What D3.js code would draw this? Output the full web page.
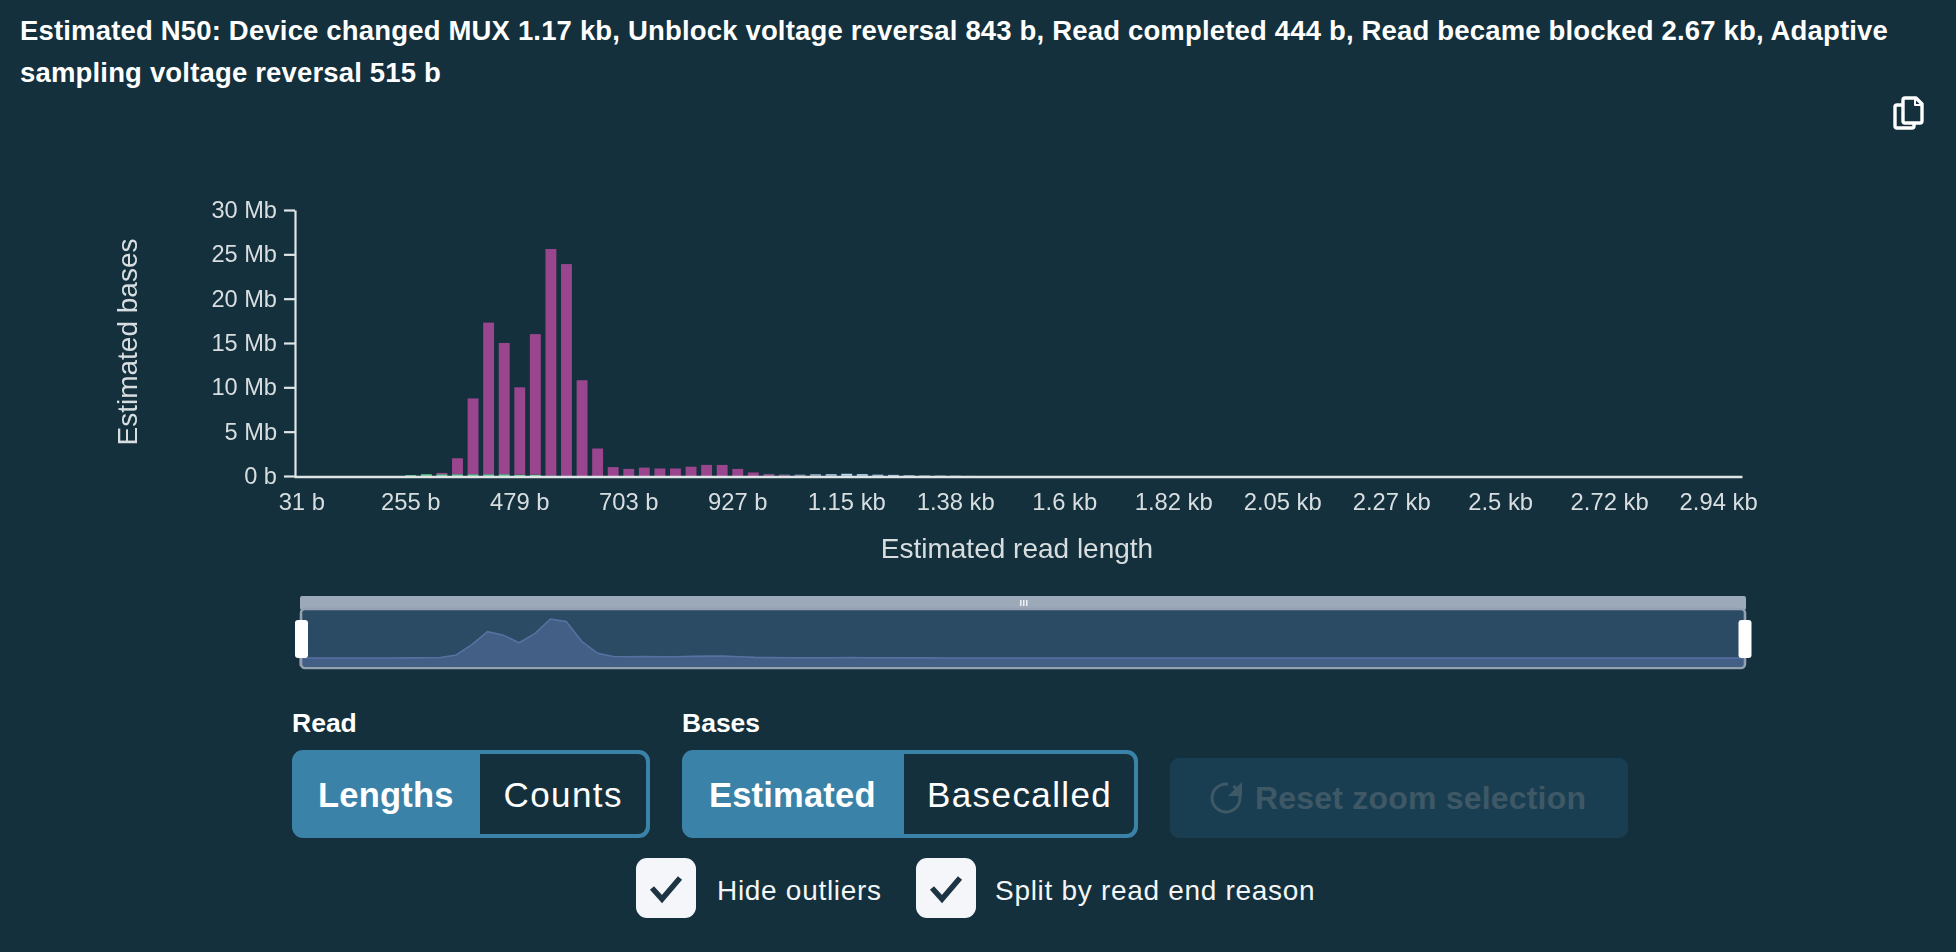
<!DOCTYPE html>
<html>
<head>
<meta charset="utf-8">
<script src="https://cdn.jsdelivr.net/npm/d3@7"></script>
<style>
  html, body { margin: 0; padding: 0; background: #13303c; overflow: hidden; }
  text { font-family: "Liberation Sans", Arial, sans-serif; }
  .chart { filter: blur(0.7px); }
</style>
</head>
<body>
<div id="chart"></div>
<script>
const titleLines = [
  "Estimated N50: Device changed MUX 1.17 kb, Unblock voltage reversal 843 b, Read completed 444 b, Read became blocked 2.67 kb, Adaptive",
  "sampling voltage reversal 515 b"
];

// read length bins, 32 b wide
const binStarts = d3.range(93).map(i => 31 + 32 * i);
const xTickBins = [31, 255, 479, 703, 927, 1151, 1375, 1599, 1823, 2047, 2271, 2495, 2719, 2943];
const xTickLabels = ["31 b", "255 b", "479 b", "703 b", "927 b", "1.15 kb", "1.38 kb", "1.6 kb", "1.82 kb", "2.05 kb", "2.27 kb", "2.5 kb", "2.72 kb", "2.94 kb"];
const yTicks = [0, 5, 10, 15, 20, 25, 30];
const yTickLabels = ["0 b", "5 Mb", "10 Mb", "15 Mb", "20 Mb", "25 Mb", "30 Mb"];

// values in Mb, bins after the listed ones are empty
const readCompleted = [0, 0, 0, 0, 0, 0, 0, 0.1, 0.2, 0.2, 0.2, 0.2, 0.2, 0.2, 0.15, 0.15, 0.05];
const adaptiveReversal = [0, 0, 0, 0, 0, 0, 0, 0, 0, 0.15, 1.8, 8.55, 17.1, 14.8, 9.85, 15.85, 25.55, 23.9, 10.8, 3.1, 1.0, 0.8, 0.95, 0.85, 0.85, 1.05, 1.25, 1.25, 0.8, 0.4, 0.2, 0.1, 0.03];
const unblockReversal = [0, 0, 0, 0, 0, 0, 0, 0, 0, 0, 0, 0, 0, 0, 0, 0, 0, 0, 0, 0, 0, 0, 0, 0, 0, 0, 0, 0, 0, 0, 0.03, 0.05, 0.08, 0.08, 0.05, 0.03, 0.03, 0.03, 0.02, 0.02];
const deviceChangedMux = [0, 0, 0, 0, 0, 0, 0, 0, 0, 0, 0, 0, 0, 0, 0, 0, 0, 0, 0, 0, 0, 0, 0, 0, 0, 0, 0, 0, 0, 0, 0, 0, 0.03, 0.1, 0.15, 0.22, 0.18, 0.12, 0.1, 0.06, 0.04, 0.03, 0.02];
const readBlocked = [0, 0, 0, 0, 0, 0, 0, 0, 0, 0, 0, 0, 0, 0, 0, 0, 0, 0, 0, 0, 0, 0, 0, 0, 0, 0, 0, 0, 0, 0, 0, 0, 0, 0, 0, 0, 0, 0, 0.01, 0.01, 0.01, 0.01, 0.01, 0.01];

const seriesNames = ["Read completed", "Adaptive sampling voltage reversal", "Unblock voltage reversal", "Device changed MUX", "Read became blocked"];
const seriesValues = [readCompleted, adaptiveReversal, unblockReversal, deviceChangedMux, readBlocked];
const seriesColors = ["#62c98f", "#99468f", "#8f9fb0", "#bcdcf2", "#a5aeb8"];

const BG = "#13303c", AXIS = "#dfe4e6", LABEL = "#d8dee0", WHITE = "#ffffff", TOGGLE = "#3b82a8";

const rows = binStarts.map((bin, i) => {
  const row = { bin };
  seriesNames.forEach((name, s) => { row[name] = seriesValues[s][i] || 0; });
  return row;
});
const totals = rows.map(r => d3.sum(seriesNames, name => r[name]));

const svg = d3.select("#chart").append("svg").attr("width", 1956).attr("height", 952).style("display", "block");

// header
svg.append("g").selectAll("text").data(titleLines).join("text")
  .attr("x", 20).attr("y", (d, i) => 40 + i * 42)
  .attr("font-size", 27.5).attr("font-weight", 700).attr("letter-spacing", 0.17).attr("fill", WHITE)
  .text(d => d);

// copy icon
const copyIcon = svg.append("g").attr("fill", "none").attr("stroke", WHITE).attr("stroke-width", 3.4).attr("stroke-linejoin", "round");
copyIcon.append("path").attr("d", "M1902 105h-5a2 2 0 0 0-2 2v19a2 2 0 0 0 2 2h15a2 2 0 0 0 2-2v-3");
copyIcon.append("path").attr("d", "M1905 98h11l6 6v17a2 2 0 0 1-2 2h-15a2 2 0 0 1-2-2v-21a2 2 0 0 1 2-2z");
copyIcon.append("path").attr("d", "M1915 98v7h7").attr("stroke-width", 2);

// main chart
const x = d3.scaleBand().domain(binStarts).range([294, 1742]).paddingInner(0.3).paddingOuter(0.15);
const y = d3.scaleLinear().domain([0, 30]).range([476, 210]);

const chart = svg.append("g").attr("class", "chart");

const stacked = d3.stack().keys(seriesNames)(rows);
chart.append("g").selectAll("g").data(stacked).join("g")
  .attr("fill", (d, i) => seriesColors[i])
  .selectAll("rect").data(d => d.filter(p => p[1] > p[0])).join("rect")
  .attr("x", d => x(d.data.bin))
  .attr("y", d => y(d[1]))
  .attr("width", x.bandwidth())
  .attr("height", d => y(d[0]) - y(d[1]));

const yAxis = chart.append("g").attr("transform", "translate(295,0)")
  .call(d3.axisLeft(y).tickValues(yTicks).tickSize(11).tickSizeOuter(0).tickPadding(7).tickFormat((d, i) => yTickLabels[i]));
yAxis.selectAll("path, line").attr("stroke", AXIS).attr("stroke-width", 2.2);
yAxis.selectAll("text").attr("fill", LABEL).attr("font-size", 23.6);

const xAxis = chart.append("g").attr("transform", "translate(0,476.5)")
  .call(d3.axisBottom(x).tickValues(xTickBins).tickSize(0).tickPadding(17).tickFormat((d, i) => xTickLabels[i]));
xAxis.selectAll("path").attr("stroke", AXIS).attr("stroke-width", 2.4);
xAxis.selectAll("text").attr("fill", LABEL).attr("font-size", 23.8);

chart.append("text").attr("x", 1017).attr("y", 558).attr("text-anchor", "middle")
  .attr("fill", LABEL).attr("font-size", 28).text("Estimated read length");
chart.append("text").attr("transform", "translate(137,342) rotate(-90)").attr("text-anchor", "middle")
  .attr("fill", LABEL).attr("font-size", 28).text("Estimated bases");

// zoom slider with the totals as its shadow
const slider = svg.append("g").attr("class", "chart");
const sx = d3.scalePoint().domain(binStarts).range([299, 1745]);
const sy = d3.scaleLinear().domain([0, d3.max(totals)]).range([658, 619]);

slider.append("rect").attr("x", 300).attr("y", 596).attr("width", 1446).attr("height", 14).attr("rx", 2).attr("fill", "#9ca9b8");
slider.append("rect").attr("x", 301).attr("y", 610).attr("width", 1444).attr("height", 58).attr("fill", "#2b4a64");

const sliderArea = d3.area().x((d, i) => sx(binStarts[i])).y0(666).y1(d => sy(d));
const sliderLine = d3.line().x((d, i) => sx(binStarts[i])).y(d => sy(d));
slider.append("path").datum(totals).attr("d", sliderArea).attr("fill", "#435f85");
slider.append("path").datum(totals).attr("d", sliderLine).attr("fill", "none").attr("stroke", "#5672a0").attr("stroke-width", 1.6);

// frame around the selected window
slider.append("rect").attr("x", 301).attr("y", 609).attr("width", 1444).attr("height", 59)
  .attr("rx", 4).attr("fill", "none").attr("stroke", "#93a1b2").attr("stroke-width", 2.6);

slider.selectAll("rect.handle").data([295, 1738.5]).join("rect").attr("class", "handle")
  .attr("x", d => d).attr("y", 620).attr("width", 13).attr("height", 38).attr("rx", 3).attr("fill", WHITE);
slider.selectAll("rect.grip").data([1020, 1023, 1026]).join("rect").attr("class", "grip")
  .attr("x", d => d).attr("y", 600).attr("width", 1.5).attr("height", 6).attr("fill", "#eef1f4");

// toggle groups
const toggles = [
  { label: "Read", x0: 292, x1: 650, split: 480, on: "Lengths", onX: 318, off: "Counts", offX: 503.5 },
  { label: "Bases", x0: 682, x1: 1138, split: 904, on: "Estimated", onX: 709, off: "Basecalled", offX: 927 }
];
toggles.forEach(t => {
  const g = svg.append("g");
  g.append("text").attr("x", t.x0).attr("y", 732).attr("font-size", 26.5).attr("font-weight", 700).attr("fill", WHITE).text(t.label);
  g.append("rect").attr("x", t.x0).attr("y", 750).attr("width", t.x1 - t.x0).attr("height", 88).attr("rx", 11).attr("fill", TOGGLE);
  g.append("path").attr("fill", BG)
    .attr("d", `M${t.split} 754H${t.x1 - 12}a8 8 0 0 1 8 8V826a8 8 0 0 1-8 8H${t.split}Z`);
  g.append("text").attr("x", t.onX).attr("y", 807).attr("font-size", 34.5).attr("font-weight", 700).attr("letter-spacing", 0.2).attr("fill", WHITE).text(t.on);
  g.append("text").attr("x", t.offX).attr("y", 807).attr("font-size", 35).attr("letter-spacing", 1.4).attr("fill", WHITE).text(t.off);
});

// reset button
const reset = svg.append("g");
reset.append("rect").attr("x", 1170).attr("y", 758).attr("width", 458).attr("height", 80).attr("rx", 9).attr("fill", "#1a3e51");
reset.append("text").attr("x", 1255).attr("y", 809).attr("font-size", 32).attr("font-weight", 700).attr("letter-spacing", 0.2).attr("fill", "#3f5866").text("Reset zoom selection");
const resetArc = d3.arc().innerRadius(12.5).outerRadius(15.5).startAngle(0.55).endAngle(2 * Math.PI + 0.15);
reset.append("path").attr("transform", "translate(1226,798)").attr("d", resetArc).attr("fill", "#3f5866");
reset.append("path").attr("d", "M1242 782V796H1228Z").attr("fill", "#3f5866");

// checkboxes
const checks = [
  { x0: 636, label: "Hide outliers", labelX: 717 },
  { x0: 916, label: "Split by read end reason", labelX: 995 }
];
checks.forEach(c => {
  const g = svg.append("g");
  g.append("rect").attr("x", c.x0).attr("y", 858).attr("width", 60).attr("height", 60).attr("rx", 11).attr("fill", "#f5f6f9");
  g.append("path").attr("transform", `translate(${c.x0},858)`).attr("d", "M16 30L26 41L44 20")
    .attr("fill", "none").attr("stroke", "#1c3444").attr("stroke-width", 5.5);
  g.append("text").attr("x", c.labelX).attr("y", 900).attr("font-size", 28).attr("letter-spacing", 0.7).attr("fill", "#f3f5f7").text(c.label);
});
</script>
</body>
</html>
